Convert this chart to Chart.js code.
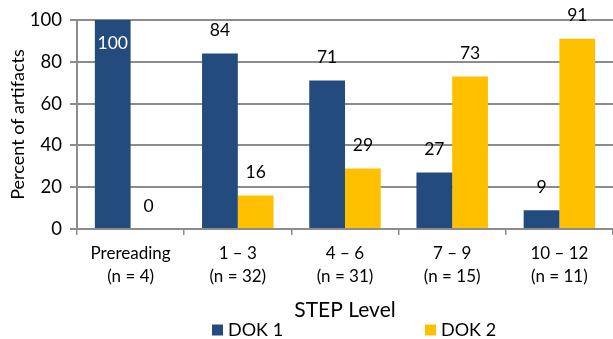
<!DOCTYPE html>
<html>
<head>
<meta charset="utf-8">
<script src="https://cdn.jsdelivr.net/npm/chart.js@4/dist/chart.umd.min.js"></script>
<style>
  html, body { margin: 0; padding: 0; background: #fff; }
  #wrap { width: 613px; height: 339px; position: relative; }
</style>
</head>
<body>
<div id="wrap"><canvas id="chart"></canvas></div>
<script>
var categories = [
  ['Prereading', '(n = 4)'],
  ['1 \u2013 3', '(n = 32)'],
  ['4 \u2013 6', '(n = 31)'],
  ['7 \u2013 9', '(n = 15)'],
  ['10 \u2013 12', '(n = 11)']
];
var dok1 = [100, 84, 71, 27, 9];
var dok2 = [0, 16, 29, 73, 91];
var yTicks = [0, 20, 40, 60, 80, 100];

var FONT = 'Lato, "Open Sans", sans-serif';
var GRID = '#8c8c8c';

// value labels above each bar (inside, in white, when the bar hits the top)
var valueLabels = {
  id: 'valueLabels',
  afterDatasetsDraw: function (chart) {
    var ctx = chart.ctx;
    ctx.save();
    ctx.font = '17.5px ' + FONT;
    ctx.textAlign = 'center';
    ctx.textBaseline = 'middle';
    chart.data.datasets.forEach(function (ds, i) {
      var meta = chart.getDatasetMeta(i);
      meta.data.forEach(function (bar, j) {
        var v = ds.data[j];
        if (v >= 100) {
          ctx.fillStyle = '#fff';
          ctx.fillText(v, bar.x, bar.y + 23);
        } else {
          ctx.fillStyle = '#000';
          ctx.fillText(v, bar.x, bar.y - 23);
        }
      });
    });
    ctx.restore();
  }
};

// legend spread out under the chart like the original
var wideLegend = {
  id: 'wideLegend',
  afterDraw: function (chart) {
    var ctx = chart.ctx;
    var xs = [212, 425];
    var y = 330;
    ctx.save();
    ctx.font = '18px ' + FONT;
    ctx.textBaseline = 'middle';
    ctx.textAlign = 'left';
    chart.data.datasets.forEach(function (ds, i) {
      ctx.fillStyle = ds.backgroundColor;
      ctx.fillRect(xs[i], y - 5.5, 11, 11);
      ctx.fillStyle = '#000';
      ctx.fillText(ds.label, xs[i] + 16, y);
    });
    ctx.restore();
  }
};

new Chart(document.getElementById('chart'), {
  type: 'bar',
  data: {
    labels: categories,
    datasets: [
      { label: 'DOK 1', data: dok1, backgroundColor: '#234B7D' },
      { label: 'DOK 2', data: dok2, backgroundColor: '#FFC000' }
    ]
  },
  options: {
    responsive: true,
    maintainAspectRatio: false,
    animation: false,
    layout: { padding: { top: 20, right: 0, bottom: 16, left: 0 } },
    datasets: { bar: { categoryPercentage: 0.667, barPercentage: 1 } },
    plugins: {
      legend: { display: false },
      tooltip: { enabled: false }
    },
    scales: {
      x: {
        grid: {
          display: true, drawOnChartArea: false, drawTicks: true,
          tickLength: 6, color: GRID, lineWidth: 1.5, offset: true
        },
        border: { display: true, color: GRID, width: 2 },
        ticks: {
          color: '#000', padding: 7, maxRotation: 0, autoSkip: false,
          font: { family: FONT, size: 17, lineHeight: 1.36 }
        },
        title: {
          display: true, text: 'STEP Level', color: '#000',
          font: { family: FONT, size: 21 }, padding: { top: 0, bottom: 0 }
        },
        afterFit: function (scale) { scale.height = 94; }
      },
      y: {
        min: 0, max: 100,
        afterBuildTicks: function (scale) {
          scale.ticks = yTicks.map(function (v) { return { value: v }; });
        },
        grid: {
          color: GRID, lineWidth: 2, drawTicks: true, tickLength: 7
        },
        border: { display: true, color: GRID, width: 2 },
        ticks: {
          color: '#000', padding: 8,
          font: { family: FONT, size: 18.5 }
        },
        title: {
          display: true, text: 'Percent of artifacts', color: '#000',
          font: { family: FONT, size: 18 }, padding: { top: 7, bottom: 0 }
        },
        afterFit: function (scale) { scale.width = 77; }
      }
    }
  },
  plugins: [valueLabels, wideLegend]
});
</script>
</body>
</html>
